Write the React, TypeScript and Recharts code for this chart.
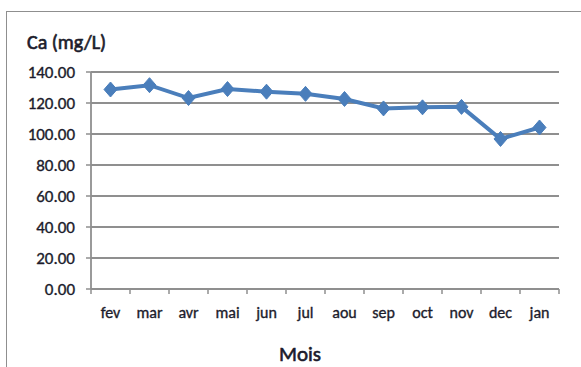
import React from 'react';
import { LineChart, Line, XAxis, YAxis, CartesianGrid, Label } from 'recharts';

// Monthly calcium concentration (mg/L)
const months = ['fev', 'mar', 'avr', 'mai', 'jun', 'jul', 'aou', 'sep', 'oct', 'nov', 'dec', 'jan'];
const calcium = [128.7, 131.5, 123.2, 129.0, 127.3, 125.9, 122.6, 116.5, 117.2, 117.5, 96.8, 104.2];
const yTicks = [0, 20, 40, 60, 80, 100, 120, 140];

const data = months.map((m, i) => ({ mois: m, ca: calcium[i] }));

const W = 581;
const H = 367;
const MARGIN = { top: 72, right: 22, left: 0, bottom: 0 };
const Y_AXIS_W = 91;
const X_AXIS_H = 78;
const PLOT_W = W - MARGIN.right - Y_AXIS_W;
const HALF_BAND = PLOT_W / months.length / 2;

const FONT = "Carlito, 'Open Sans', sans-serif";
const TEXT = '#1c1c2c';
const GRID = '#8f8f8f';
const BLUE = '#4a7ebb';
const TEXT_STROKE = { stroke: TEXT, strokeWidth: 0.35 };
const TITLE_STROKE = { stroke: TEXT, strokeWidth: 0.6 };

const Diamond = (props: any) => {
  const { cx, cy } = props;
  if (cx == null || cy == null) return null;
  const r = 6.5;
  return (
    <path
      d={`M${cx},${cy - r - 1} L${cx + r},${cy} L${cx},${cy + r + 1} L${cx - r},${cy} Z`}
      fill={BLUE}
      stroke={BLUE}
      strokeWidth={1}
    />
  );
};

// Category label centred in its band, with tick marks on the band edges
const MonthTick = (props: any) => {
  const { x, y, payload, index } = props;
  const last = index === months.length - 1;
  return (
    <g>
      <line x1={x - HALF_BAND} y1={y} x2={x - HALF_BAND} y2={y + 5} stroke={GRID} strokeWidth={1.5} />
      {last && <line x1={x + HALF_BAND} y1={y} x2={x + HALF_BAND} y2={y + 5} stroke={GRID} strokeWidth={1.5} />}
      <text x={x} y={y + 29} textAnchor="middle" fill={TEXT} {...TEXT_STROKE} fontSize={16} fontFamily={FONT}>
        {payload.value}
      </text>
    </g>
  );
};

export default function App() {
  return (
    <div style={{ position: 'absolute', left: 0, top: 0, width: W, height: H, background: '#fff' }}>
      <div
        style={{
          position: 'absolute',
          left: 6,
          top: 11,
          width: W - 6,
          height: H - 11,
          borderTop: `1px solid ${GRID}`,
          borderLeft: `1px solid ${GRID}`,
        }}
      />
      <div style={{ position: 'absolute', left: 0, top: 0 }}>
        <LineChart width={W} height={H} data={data} margin={MARGIN}>
          <CartesianGrid horizontal vertical={false} stroke={GRID} strokeWidth={1.8} />
          <XAxis
            dataKey="mois"
            scale="band"
            height={X_AXIS_H}
            axisLine={{ stroke: GRID, strokeWidth: 1.8 }}
            tickLine={false}
            tickSize={0}
            tickMargin={0}
            interval={0}
            tick={<MonthTick />}
          >
            <Label
              content={() => (
                <text x={300} y={361} textAnchor="middle" fill={TEXT} {...TITLE_STROKE} fontSize={21} fontFamily={FONT}>
                  Mois
                </text>
              )}
            />
          </XAxis>
          <YAxis
            width={Y_AXIS_W}
            domain={[0, 140]}
            ticks={yTicks}
            interval={0}
            tickFormatter={(v: number) => v.toFixed(2)}
            axisLine={{ stroke: GRID, strokeWidth: 1.8 }}
            tickLine={{ stroke: GRID, strokeWidth: 1.5 }}
            tickSize={5}
            tickMargin={11}
            tick={{ fill: TEXT, fontSize: 17, fontFamily: FONT, ...TEXT_STROKE }}
          >
            <Label
              content={() => (
                <text x={27} y={49} fill={TEXT} {...TITLE_STROKE} fontSize={20} fontFamily={FONT}>
                  Ca (mg/L)
                </text>
              )}
            />
          </YAxis>
          <Line
            type="linear"
            dataKey="ca"
            stroke={BLUE}
            strokeWidth={4}
            dot={<Diamond />}
            activeDot={false}
            isAnimationActive={false}
          />
        </LineChart>
      </div>
    </div>
  );
}
